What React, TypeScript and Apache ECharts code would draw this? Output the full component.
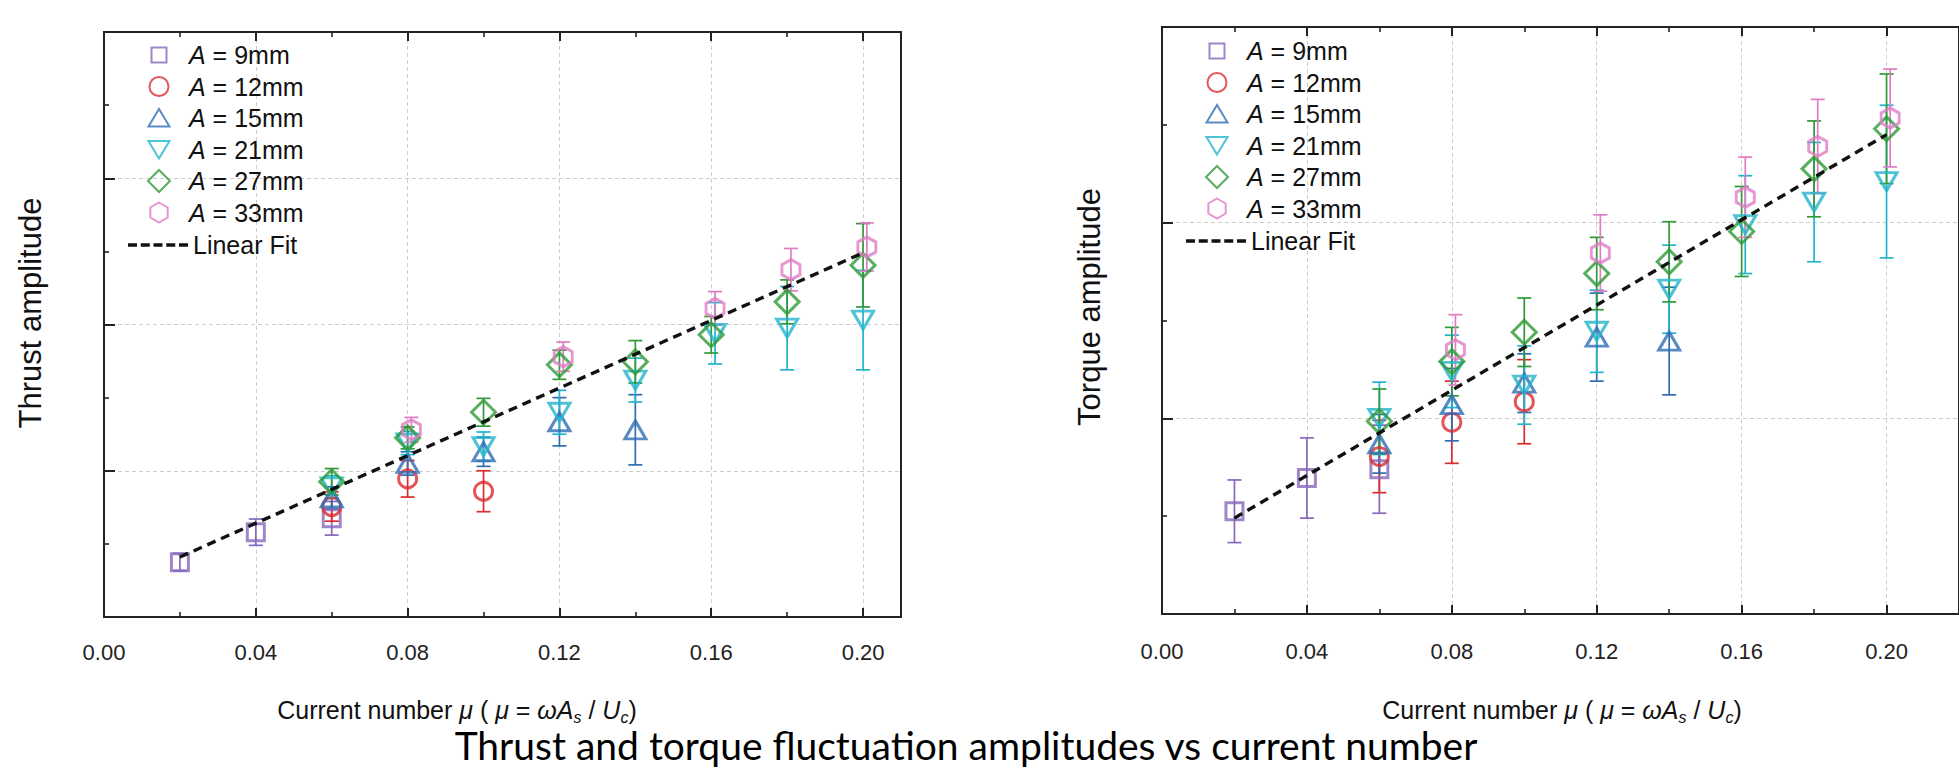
import React, { useEffect, useRef } from 'react';
import * as echarts from 'echarts';

// ---------- data ----------
const legendNames = ['A = 9mm', 'A = 12mm', 'A = 15mm', 'A = 21mm', 'A = 27mm', 'A = 33mm'];
const fitName = 'Linear Fit';
const xTickLabels = ['0.00', '0.04', '0.08', '0.12', '0.16', '0.20'];
const titleText = 'Thrust and torque fluctuation amplitudes vs current number';
const yNameLeft = 'Thrust amplitude';
const yNameRight = 'Torque amplitude';

// [mu, amplitude, error half-width]
const thrustA9 = [[0.02, 0.75, 0.12], [0.04, 1.16, 0.18], [0.06, 1.35, 0.23]];
const thrustA12 = [[0.06, 1.51, 0.2], [0.08, 1.89, 0.25], [0.10, 1.72, 0.28]];
const thrustA15 = [[0.06, 1.63, 0.15], [0.08, 2.1, 0.16], [0.10, 2.26, 0.2], [0.12, 2.67, 0.33], [0.14, 2.56, 0.48]];
const thrustA21 = [[0.06, 1.78, 0.15], [0.08, 2.38, 0.16], [0.10, 2.33, 0.2], [0.12, 2.8, 0.3], [0.14, 3.24, 0.3], [0.161, 3.88, 0.42], [0.18, 3.95, 0.57], [0.20, 4.06, 0.68]];
const thrustA27 = [[0.06, 1.85, 0.18], [0.08, 2.45, 0.15], [0.10, 2.8, 0.19], [0.12, 3.45, 0.2], [0.14, 3.49, 0.29], [0.16, 3.86, 0.25], [0.18, 4.31, 0.3], [0.20, 4.81, 0.57]];
const thrustA33 = [[0.081, 2.56, 0.17], [0.121, 3.56, 0.2], [0.161, 4.22, 0.23], [0.181, 4.75, 0.29], [0.201, 5.06, 0.33]];
const thrustFit = [[0.02, 0.82], [0.20, 4.98]];

const torqueA9 = [[0.02, 1.05, 0.32], [0.04, 1.39, 0.41], [0.06, 1.48, 0.45]];
const torqueA12 = [[0.06, 1.61, 0.37], [0.08, 1.96, 0.42], [0.10, 2.17, 0.43]];
const torqueA15 = [[0.06, 1.74, 0.3], [0.08, 2.14, 0.37], [0.10, 2.36, 0.3], [0.12, 2.83, 0.45], [0.14, 2.79, 0.55]];
const torqueA21 = [[0.06, 2.0, 0.37], [0.08, 2.48, 0.37], [0.10, 2.34, 0.4], [0.12, 2.89, 0.42], [0.14, 3.32, 0.45], [0.161, 3.98, 0.5], [0.18, 4.21, 0.61], [0.20, 4.42, 0.78]];
const torqueA27 = [[0.06, 1.97, 0.33], [0.08, 2.58, 0.35], [0.10, 2.88, 0.35], [0.12, 3.48, 0.37], [0.14, 3.6, 0.41], [0.16, 3.91, 0.46], [0.18, 4.55, 0.49], [0.20, 4.96, 0.56]];
const torqueA33 = [[0.081, 2.70, 0.36], [0.121, 3.69, 0.39], [0.161, 4.26, 0.41], [0.181, 4.78, 0.48], [0.201, 5.07, 0.5]];
const torqueFit = [[0.02, 0.98], [0.20, 4.9]];

// ---------- styles ----------
const FONT = "'Liberation Sans', Arial, Helvetica, sans-serif";
const COLORS = ['#8768bb', '#dc2b2e', '#2f6db3', '#22b4cc', '#2f9a36', '#e07cc6'];
const SYMBOLS = ['rect', 'circle', 'triangle', 'triangle', 'diamond', 'path://M0,-10L8.66,-5L8.66,5L0,10L-8.66,5L-8.66,-5Z'];
const SYMBOL_ROT = [0, 0, 0, 180, 0, 0];
const SYMBOL_SIZE: any[] = [17, 18, [21, 18], [21, 18], [24, 24], [18, 20]];
const LEGEND_ICONS = [
  'path://M-11,-11M11,11M-7.5,-7.5h15v15h-15z',
  'path://M-11,-11M11,11M9.5,0A9.5,9.5,0,1,1,-9.5,0A9.5,9.5,0,1,1,9.5,0z',
  'path://M-11,-11M11,11M0,-9L10.5,8.5L-10.5,8.5z',
  'path://M-11,-11M11,11M0,9L10.5,-8.5L-10.5,-8.5z',
  'path://M0,-11L11,0L0,11L-11,0z',
  'path://M-11,-11M11,11M0,-10L8.66,-5L8.66,5L0,10L-8.66,5L-8.66,-5z',
];
const DASH_ICON = 'path://M0,0h9v3.4h-9zM12.75,0h9v3.4h-9zM25.5,0h9v3.4h-9zM38.25,0h9v3.4h-9zM51,0h9v3.4h-9z';

const isMajor = (v: number) => Math.abs(v / 0.04 - Math.round(v / 0.04)) < 1e-6;

function makeErr(color: string) {
  return (params: any, api: any) => {
    const x = api.value(0);
    const lo = api.value(1);
    const hi = api.value(2);
    const p1 = api.coord([x, hi]);
    const p2 = api.coord([x, lo]);
    const w = 7;
    const style = { stroke: color, lineWidth: 1.7, fill: 'none' };
    return {
      type: 'group',
      children: [
        { type: 'line', shape: { x1: p1[0], y1: p1[1], x2: p2[0], y2: p2[1] }, style },
        { type: 'line', shape: { x1: p1[0] - w, y1: p1[1], x2: p1[0] + w, y2: p1[1] }, style },
        { type: 'line', shape: { x1: p2[0] - w, y1: p2[1], x2: p2[0] + w, y2: p2[1] }, style },
      ],
    };
  };
}

function buildSeries(sets: number[][][], fit: number[][], g: number) {
  const out: any[] = [];
  const xi = g * 4;
  sets.forEach((ds, i) => {
    out.push({
      type: 'custom',
      name: `err-${g}-${i}`,
      xAxisIndex: xi,
      yAxisIndex: g,
      z: 3,
      silent: true,
      data: ds.map((d) => [d[0], d[1] - d[2], d[1] + d[2]]),
      encode: { x: 0, y: [1, 2] },
      renderItem: makeErr(COLORS[i]),
    });
  });
  sets.forEach((ds, i) => {
    out.push({
      type: 'scatter',
      name: legendNames[i],
      xAxisIndex: xi,
      yAxisIndex: g,
      z: 4,
      symbol: SYMBOLS[i],
      symbolRotate: SYMBOL_ROT[i],
      symbolSize: SYMBOL_SIZE[i],
      itemStyle: { color: 'rgba(255,255,255,0)', borderColor: COLORS[i], borderWidth: 3 },
      data: ds.map((d) => [d[0], d[1]]),
    });
  });
  out.push({
    type: 'line',
    name: fitName,
    xAxisIndex: xi,
    yAxisIndex: g,
    z: 5,
    symbol: 'none',
    itemStyle: { color: '#111' },
    lineStyle: { color: '#111', width: 3.4, type: [9, 6] },
    data: fit,
  });
  return out;
}

function xAxes(g: number, max: number, labelMargin: number) {
  const grid = { gridIndex: g, type: 'value', min: 0, max };
  return [
    {
      ...grid,
      position: 'bottom',
      interval: 0.04,
      axisLine: { show: false },
      axisTick: { show: true, inside: true, length: 9, lineStyle: { color: '#222', width: 2 } },
      axisLabel: {
        show: true,
        margin: labelMargin,
        fontSize: 22,
        fontFamily: FONT,
        color: '#222',
        showMaxLabel: false,
        formatter: (v: number) => (isMajor(v) ? xTickLabels[Math.round(v / 0.04)] ?? '' : ''),
      },
      splitLine: { show: true, showMinLine: false, showMaxLine: false, lineStyle: { color: '#cccccc', width: 1, type: [4, 3] } },
    },
    {
      ...grid,
      position: 'bottom',
      interval: 0.02,
      axisLine: { show: false },
      axisTick: { show: true, inside: true, length: 5, lineStyle: { color: '#222', width: 1.6 } },
      axisLabel: { show: false },
      splitLine: { show: false },
    },
    {
      ...grid,
      position: 'top',
      interval: 0.04,
      axisLine: { show: false },
      axisTick: { show: true, inside: true, length: 9, lineStyle: { color: '#222', width: 2 } },
      axisLabel: { show: false },
      splitLine: { show: false },
    },
    {
      ...grid,
      position: 'top',
      interval: 0.02,
      axisLine: { show: false },
      axisTick: { show: true, inside: true, length: 5, lineStyle: { color: '#222', width: 1.6 } },
      axisLabel: { show: false },
      splitLine: { show: false },
    },
  ];
}

function yAxis(g: number, max: number) {
  return {
    gridIndex: g,
    type: 'value',
    min: 0,
    max,
    interval: 2,
    axisLine: { show: false },
    axisTick: { show: true, inside: true, length: 11, lineStyle: { color: '#222', width: 2 } },
    minorTick: { show: true, splitNumber: 2, length: 5, lineStyle: { color: '#222', width: 1.6 } },
    axisLabel: { show: false },
    splitLine: { show: true, showMinLine: false, showMaxLine: false, lineStyle: { color: '#cccccc', width: 1, type: [4, 3] } },
    minorSplitLine: { show: false },
  };
}

const LEG_FONT = 25;
const legendText = (pad: number) => ({
  fontSize: LEG_FONT,
  fontFamily: FONT,
  color: '#111',
  lineHeight: LEG_FONT,
  padding: [0, 0, 0, pad],
  rich: { i: { fontStyle: 'italic', fontSize: LEG_FONT, fontFamily: FONT, color: '#111', lineHeight: LEG_FONT } },
});

function markerLegend(cx: number, top: number) {
  return {
    data: legendNames.map((name, i) => ({ name, icon: LEGEND_ICONS[i] })),
    orient: 'vertical',
    left: cx - 11,
    top,
    itemWidth: 22,
    itemHeight: 22,
    itemGap: 6.5,
    selectedMode: false,
    textStyle: legendText(14),
    formatter: (name: string) => '{i|A}' + name.slice(1),
  };
}

function fitLegend(left: number, top: number) {
  return {
    data: [{ name: fitName, icon: DASH_ICON, itemStyle: { color: '#111' } }],
    orient: 'vertical',
    left,
    top,
    itemWidth: 60,
    itemHeight: 3.4,
    selectedMode: false,
    textStyle: legendText(0),
  };
}

function xNameText(cx: number, cy: number) {
  const n = { fontSize: 25, fontFamily: FONT, fill: '#111', lineHeight: 30, verticalAlign: 'middle' };
  const i = { ...n, fontStyle: 'italic' };
  const s = { fontSize: 16, fontFamily: FONT, fill: '#111', fontStyle: 'italic', lineHeight: 14, verticalAlign: 'bottom' };
  return {
    type: 'text',
    x: cx,
    y: cy,
    style: {
      text: '{n|Current number }{i|μ}{n| ( }{i|μ}{n| = }{i|ωA}{s|s}{n| / }{i|U}{s|c}{n|)}',
      rich: { n, i, s },
      align: 'center',
      verticalAlign: 'middle',
      fontSize: 25,
      fontFamily: FONT,
      fill: '#111',
    },
  };
}

function yNameText(text: string, cx: number, cy: number) {
  return {
    type: 'text',
    x: cx,
    y: cy,
    rotation: Math.PI / 2,
    style: { text, fontSize: 31, fontFamily: FONT, fill: '#111', align: 'center', verticalAlign: 'middle' },
  };
}

export default function App() {
  const ref = useRef<HTMLDivElement>(null);
  useEffect(() => {
    if (!ref.current) return;
    const chart = echarts.init(ref.current, undefined, { renderer: 'svg' });
    const option: any = {
      animation: false,
      backgroundColor: '#ffffff',
      grid: [
        { left: 104, top: 32, width: 797, height: 585, show: true, borderColor: '#222', borderWidth: 2, backgroundColor: 'transparent' },
        { left: 1162, top: 27, width: 799, height: 587, show: true, borderColor: '#222', borderWidth: 2, backgroundColor: 'transparent' },
      ],
      xAxis: [...xAxes(0, 0.21, 24), ...xAxes(1, 0.22, 26)],
      yAxis: [yAxis(0, 8), yAxis(1, 6)],
      legend: [
        markerLegend(153, 37.5),
        fitLegend(123, 227.5),
        markerLegend(1211, 33.5),
        fitLegend(1181, 223.5),
      ],
      series: [
        ...buildSeries([thrustA9, thrustA12, thrustA15, thrustA21, thrustA27, thrustA33], thrustFit, 0),
        ...buildSeries([torqueA9, torqueA12, torqueA15, torqueA21, torqueA27, torqueA33], torqueFit, 1),
      ],
      graphic: [
        yNameText(yNameLeft, 30, 313),
        yNameText(yNameRight, 1089, 307),
        xNameText(457, 710),
        xNameText(1562, 710),
        {
          type: 'text',
          x: 966,
          y: 745,
          style: { text: titleText, fontSize: 39, fontFamily: 'Lato, Carlito, sans-serif', fill: '#000', align: 'center', verticalAlign: 'middle' },
        },
      ],
    };
    chart.setOption(option);
    return () => chart.dispose();
  }, []);
  return (
    <div style={{ position: 'fixed', left: 0, top: 0, width: 1959, height: 770, overflow: 'hidden', background: '#fff' }}>
      <div ref={ref} style={{ width: 1959, height: 770 }} />
    </div>
  );
}
